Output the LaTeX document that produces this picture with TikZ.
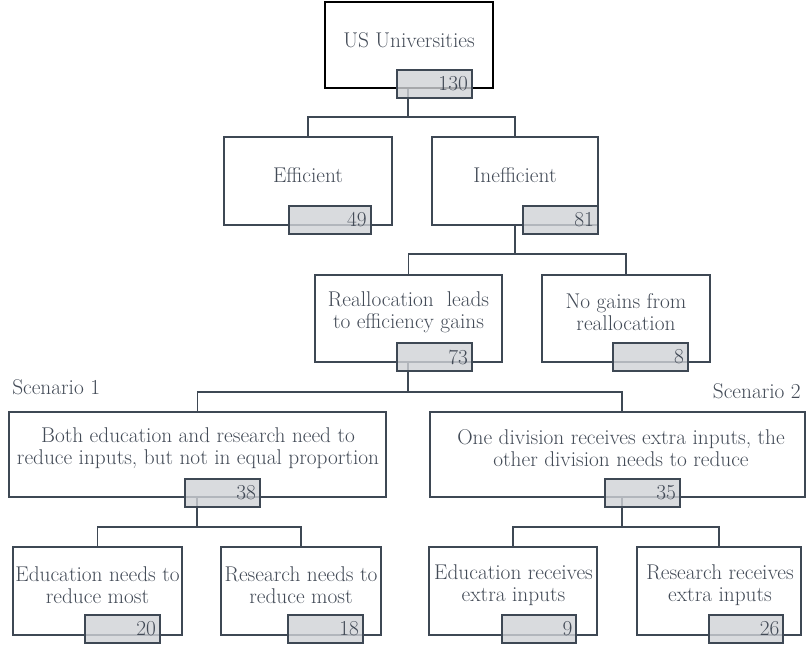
\documentclass[tikz,border=0pt]{standalone}
\usepackage{tikz}

\definecolor{edgec}{RGB}{62,72,84}
\definecolor{txtc}{RGB}{66,74,86}
\definecolor{numfill}{RGB}{208,210,214}

\begin{document}
\begin{tikzpicture}[x=0.75pt, y=-0.75pt,
    cell/.style={draw=edgec, line width=1.4pt, inner sep=0pt},
    lbl/.style={text=txtc, align=center, inner sep=0pt, font=\fontsize{16}{16.5}\selectfont},
    numbox/.style={draw=edgec, line width=1.4pt, fill=numfill, fill opacity=0.8, text opacity=1,
        text=txtc, font=\fontsize{16}{16.5}\selectfont, minimum height=21.5pt,
        text width=50pt, align=right, inner xsep=3pt, inner ysep=0pt},
    link/.style={draw=edgec, line width=1.3pt}]
    \useasboundingbox (0,0) rectangle (807,648);

    % top
    \node[cell, draw=black, line width=2.2pt, minimum width=126pt, minimum height=64.5pt] (univ) at (409,45) {};
    \node[lbl] (univtxt) at (409,40) {US Universities};

    % efficient / inefficient
    \node[cell, minimum width=126pt, minimum height=66pt] (eff) at (308,181) {};
    \node[lbl] (efftxt) at (308,175) {Efficient};
    \node[cell, minimum width=124.5pt, minimum height=66pt] (ineff) at (515,181) {};
    \node[lbl] (inefftxt) at (515,175) {Inefficient};

    % reallocation
    \node[cell, minimum width=140.25pt, minimum height=65.25pt] (realloc) at (408.5,318.5) {};
    \node[lbl] (realloctxt) at (408.5,312) {Reallocation~ leads\\to efficiency gains};
    \node[cell, minimum width=126pt, minimum height=65.25pt] (nogain) at (626,318.5) {};
    \node[lbl] (nogaintxt) at (626,312) {No gains from\\reallocation};

    % scenarios
    \node[lbl, anchor=west] (sc1) at (12,387) {Scenario 1};
    \node[lbl, anchor=east] (sc2) at (801,391) {Scenario 2};
    \node[cell, minimum width=282.75pt, minimum height=63.75pt] (both) at (197.5,454.5) {};
    \node[lbl] (bothtxt) at (198,448) {Both education and research need to\\reduce inputs, but not in equal proportion};
    \node[cell, minimum width=281.25pt, minimum height=63.75pt] (onediv) at (617.5,454.5) {};
    \node[lbl] (onedivtxt) at (621,448) {One division receives extra inputs, the\\other division needs to reduce};

    % bottom row
    \node[cell, minimum width=126.75pt, minimum height=66pt] (edured) at (97.5,591) {};
    \node[lbl] (eduredtxt) at (97.5,585) {Education needs to\\reduce most};
    \node[cell, minimum width=120pt, minimum height=66pt] (resred) at (301,591) {};
    \node[lbl] (resredtxt) at (301,585) {Research needs to\\reduce most};
    \node[cell, minimum width=126pt, minimum height=66pt] (eduext) at (513,591) {};
    \node[lbl] (eduexttxt) at (513.5,585) {Education receives\\extra inputs};
    \node[cell, minimum width=123pt, minimum height=66pt] (resext) at (719,591) {};
    \node[lbl] (resexttxt) at (720,585) {Research receives\\extra inputs};

    % connectors
    \coordinate (j1) at (408,117);
    \draw[link] (univ.south -| j1) -- (j1) -| (eff.north);
    \draw[link] (j1) -| (ineff.north);
    \coordinate (j2) at (515,254);
    \draw[link] (ineff.south -| j2) -- (j2) -| (realloc.north);
    \draw[link] (j2) -| (nogain.north);
    \coordinate (j3) at (408,392);
    \draw[link] (realloc.south -| j3) -- (j3) -| (both.north);
    \draw[link] (j3) -| (onediv.north -| 622,0);
    \coordinate (j4) at (197,527);
    \draw[link] (both.south -| j4) -- (j4) -| (edured.north);
    \draw[link] (j4) -| (resred.north);
    \coordinate (j5) at (622,527);
    \draw[link] (onediv.south -| j5) -- (j5) -| (eduext.north);
    \draw[link] (j5) -| (resext.north);

    % counts
    \node[numbox] (n130) at (434.5,84) {130};
    \node[numbox, text width=55pt] (n49) at (330,220) {49};
    \node[numbox] (n81) at (560.5,220) {81};
    \node[numbox] (n73) at (434.5,357) {73};
    \node[numbox] (n8) at (650.5,357) {8};
    \node[numbox] (n38) at (222.5,493) {38};
    \node[numbox] (n35) at (642.5,493) {35};
    \node[numbox] (n20) at (122.5,629) {20};
    \node[numbox] (n18) at (325.5,629) {18};
    \node[numbox] (n9) at (539,629) {9};
    \node[numbox] (n26) at (746,629) {26};
\end{tikzpicture}
\end{document}
